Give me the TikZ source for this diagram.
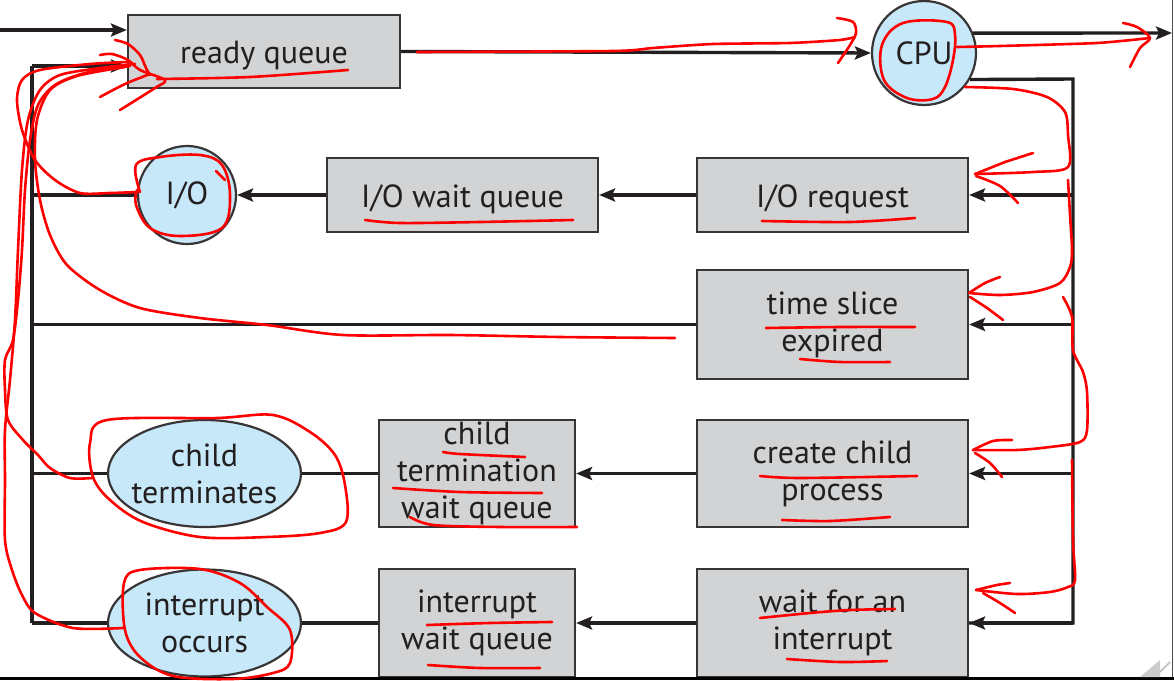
\documentclass[tikz,border=0pt]{standalone}
\usepackage{fontspec}
\setmainfont{PT Sans}
\usetikzlibrary{arrows.meta,shapes.geometric,calc}
\definecolor{ink}{HTML}{231F20}
\definecolor{boxgray}{HTML}{D1D3D4}
\definecolor{cellblue}{HTML}{C6E8F8}
\definecolor{pen}{HTML}{FF0000}
% a centred line that does not widen its node
\newcommand{\narrowline}[1]{\makebox[0pt]{#1}}
\begin{document}
\begin{tikzpicture}[x={(1pt,0pt)},y={(0pt,-1pt)},
  wire/.style={ink,line width=3.4pt},
  arr/.style={wire,-{Stealth[length=16pt,width=13pt,inset=3pt]}},
  label/.style={text=ink,align=center,font=\fontsize{32}{37}\selectfont,inner sep=0pt},
  queue/.style={label,rectangle,draw=ink!90,line width=2.2pt,fill=boxgray,
    execute at begin node={\rule{0pt}{31pt}}},
  server/.style={label,circle,draw=ink!90,line width=2.2pt,fill=cellblue},
  event/.style={label,ellipse,draw=ink!90,line width=2.2pt,fill=cellblue},
  penline/.style={pen,line width=2.6pt,line cap=round,line join=round},
]
\useasboundingbox (0,0) rectangle (1174,680);
\fill[white] (0,0) rectangle (1174,680);

% nodes
\node[queue,minimum width=272pt,minimum height=73pt] (rq) at (264,51.5) {ready queue};
\node[server,minimum size=104pt] (cpu) at (924,53) {CPU};
\node[server,minimum size=98pt] (io) at (187,195) {I/O};
\node[queue,minimum width=271pt,minimum height=74pt] (iowq) at (462.5,195) {I/O wait queue};
\node[queue,minimum width=271pt,minimum height=74pt] (ioreq) at (832.5,195) {I/O request};
\node[queue,minimum width=271pt,minimum height=109pt] (ts) at (832.5,324.5) {time slice\\expired};
\node[event,minimum width=193pt,minimum height=107pt] (ct) at (204.5,473.5) {\narrowline{child}\\\narrowline{terminates}};
\node[queue,minimum width=196pt,minimum height=107pt] (ctwq) at (477,473.5) {child\\termination\\wait queue};
\node[queue,minimum width=271pt,minimum height=107pt] (cc) at (832.5,473.5) {create child\\process};
\node[event,minimum width=193pt,minimum height=107pt] (io2) at (204.5,623) {\narrowline{interrupt}\\\narrowline{occurs}};
\node[queue,minimum width=196pt,minimum height=108pt] (iwq) at (477,623) {interrupt\\wait queue};
\node[queue,minimum width=271pt,minimum height=108pt] (wfi) at (832.5,623) {wait for an\\interrupt};

% free ends of the wires
\coordinate (in) at (0,30);
\coordinate (out) at (1172,33);
\coordinate (rtop) at (1073,79);
\coordinate (rbot) at (1073,623);
\coordinate (ltop) at (32,66);
\coordinate (lbot) at (32,623);

% connectors
\draw[arr] (in) -- (in -| rq.west);
\draw[arr] (rq.east) -- (cpu.west);
\draw[arr] (cpu.22.6) -- (out);
\draw[wire] (cpu.-30) -- (rtop) -- (rbot) -- (wfi.east);
\draw[arr] (rbot) -- (wfi.east);
\draw[arr] (rtop |- ioreq.east) -- (ioreq.east);
\draw[arr] (rtop |- ts.east) -- (ts.east);
\draw[arr] (rtop |- cc.east) -- (cc.east);
\draw[arr] (ioreq.west) -- (iowq.east);
\draw[arr] (iowq.west) -- (io.east);
\draw[arr] (cc.west) -- (ctwq.east);
\draw[arr] (wfi.west) -- (iwq.east);
\draw[wire] (ctwq.west) -- (ct.east);
\draw[wire] (iwq.west) -- (io2.east);
\draw[wire] (lbot) -- (ltop);
\draw[arr] (ltop) -- (ltop -| rq.west);
\draw[wire] (io.west) -- (ltop |- io.west);
\draw[wire] (ts.west) -- (ltop |- ts.west);
\draw[wire] (ct.west) -- (ltop |- ct.west);
\draw[wire] (io2.west) -- (lbot);

% window frame
\draw[ink!80,line width=1.5pt] (1172.5,0) -- (1172.5,677);
\fill[black] (0,677) rectangle (1174,680);
\fill[gray!40] (1140,677) -- (1160,660) -- (1160,677) -- cycle;
\draw[gray!45,line width=2pt] (1160,672) -- (1170,662);

% pen annotations: underlines
\draw[penline] plot[smooth] coordinates {(157,79) (250,77) (348,70)};
\draw[penline] plot[smooth] coordinates {(365,220) (400,223) (480,222) (573,220)};
\draw[penline] plot[smooth] coordinates {(762,221) (850,222) (915,218)};
\draw[penline] plot[smooth] coordinates {(766,328) (840,327) (915,327)};
\draw[penline] plot[smooth] coordinates {(800,359) (840,362) (890,362)};
\draw[penline] plot[smooth] coordinates {(760,476) (800,478) (917,476)};
\draw[penline] plot[smooth] coordinates {(782,520) (830,521) (890,517)};
\draw[penline] plot[smooth] coordinates {(760,618) (810,613) (850,610) (895,609)};
\draw[penline] plot[smooth] coordinates {(787,659) (840,662) (887,661)};
\draw[penline] plot[smooth] coordinates {(443,452) (460,454) (525,457)};
\draw[penline] plot[smooth] coordinates {(393,488) (460,492) (542,493)};
\draw[penline] plot[smooth] coordinates {(410,517) (433,525) (500,527) (577,527)};
\draw[penline] plot[smooth] coordinates {(427,625) (490,623) (552,622)};
\draw[penline] plot[smooth] coordinates {(428,665) (480,668) (540,668)};

% pen annotations: loops round the servers
\draw[penline] plot[smooth cycle,tension=0.6] coordinates {(903,23) (947,22) (955,35) (953,60) (945,87) (933,99) (907,98) (884,80) (882,45)};
\draw[penline] plot[smooth,tension=0.6] coordinates {(140,192) (136,165) (160,157) (200,155) (222,165) (230,195) (222,228) (180,236) (150,228) (136,205) (137,190)};
\draw[penline] (216,171) -- (225,180);
\draw[penline] plot[smooth cycle,tension=0.55] coordinates {(217,418) (273,415) (310,432) (335,455) (345,485) (346,522) (320,533) (267,537) (200,537) (143,522) (110,500) (93,477) (90,443) (107,420)};
\draw[penline] plot[smooth cycle,tension=0.55] coordinates {(140,570) (200,569) (240,583) (267,607) (290,630) (290,663) (273,673) (233,679) (173,676) (140,657) (125,630) (124,583)};

% pen annotations: flow along the top
\draw[penline] plot[smooth,tension=0.4] coordinates {(417,52) (613,51) (653,48) (713,44) (790,43) (840,40) (855,37)};
\draw[penline] plot[smooth,tension=0.5] coordinates {(837,18) (853,22) (856,33) (850,45) (838,63)};
\draw[penline] plot[smooth,tension=0.4] coordinates {(957,47) (1000,46) (1097,43) (1150,38)};
\draw[penline] plot[smooth,tension=0.5] coordinates {(1123,23) (1137,27) (1150,38) (1140,48) (1130,67)};

% pen annotations: CPU back to the event boxes
\draw[penline] plot[smooth,tension=0.5] coordinates {(965,87) (1013,89) (1047,97) (1065,112) (1068,135) (1068,167) (1033,172) (975,174)};
\draw[penline] (975,174) -- (1005,162) -- (1033,153);
\draw[penline] plot[smooth] coordinates {(976,176) (1000,186) (1018,203)};
\draw[penline] plot[smooth,tension=0.5] coordinates {(1068,180) (1070,215) (1072,250) (1070,267) (1060,283) (1033,292) (1000,295) (969,293)};
\draw[penline] plot[smooth] coordinates {(969,293) (985,283) (1000,277)};
\draw[penline] plot[smooth] coordinates {(970,297) (987,308) (1003,320)};
\draw[penline] plot[smooth,tension=0.5] coordinates {(1063,297) (1072,317) (1073,350) (1083,372) (1087,392) (1087,430) (1080,442) (1050,447) (1017,450) (973,450)};
\draw[penline] plot[smooth] coordinates {(973,450) (993,441) (1012,440)};
\draw[penline] plot[smooth] coordinates {(975,453) (990,463) (1002,477)};
\draw[penline] plot[smooth,tension=0.5] coordinates {(1072,460) (1073,540) (1075,580) (1068,587) (1050,592) (1017,594) (976,590)};
\draw[penline] plot[smooth] coordinates {(976,590) (997,585) (1010,583)};
\draw[penline] plot[smooth] coordinates {(983,593) (1000,603) (1015,613)};

% pen annotations: everything returns to the ready queue
\draw[penline] plot[smooth,tension=0.5] coordinates {(138,192) (110,193) (80,193) (55,180) (35,160) (22,130) (17,100) (22,80) (40,70) (90,64) (128,62)};
\draw[penline] plot[smooth,tension=0.5] coordinates {(675,338) (560,337) (450,335) (343,335) (267,325) (200,318) (140,308) (100,290) (67,265) (50,235) (40,200) (35,160) (37,120) (50,90) (77,76) (125,67)};
\draw[penline] plot[smooth,tension=0.5] coordinates {(92,478) (70,478) (50,468) (38,455) (23,440) (8,420) (5,390) (5,360) (13,340) (18,300) (22,250) (25,190) (30,140) (38,105) (55,85) (85,73) (130,66)};
\draw[penline] plot[smooth,tension=0.5] coordinates {(123,628) (73,628) (35,613) (22,595) (12,570) (5,540) (5,480) (5,430) (10,380) (15,320) (18,250) (22,170) (28,120) (40,90) (60,75) (100,68) (135,64)};
\draw[penline] plot[smooth,tension=0.5] coordinates {(115,40) (128,44) (140,55) (146,68) (150,75)};
\draw[penline] plot[smooth,tension=0.5] coordinates {(100,55) (112,54) (128,60) (140,70) (165,80) (155,88) (120,110)};
\draw[penline] plot[smooth,tension=0.5] coordinates {(100,97) (125,84) (150,74)};
\end{tikzpicture}
\end{document}
